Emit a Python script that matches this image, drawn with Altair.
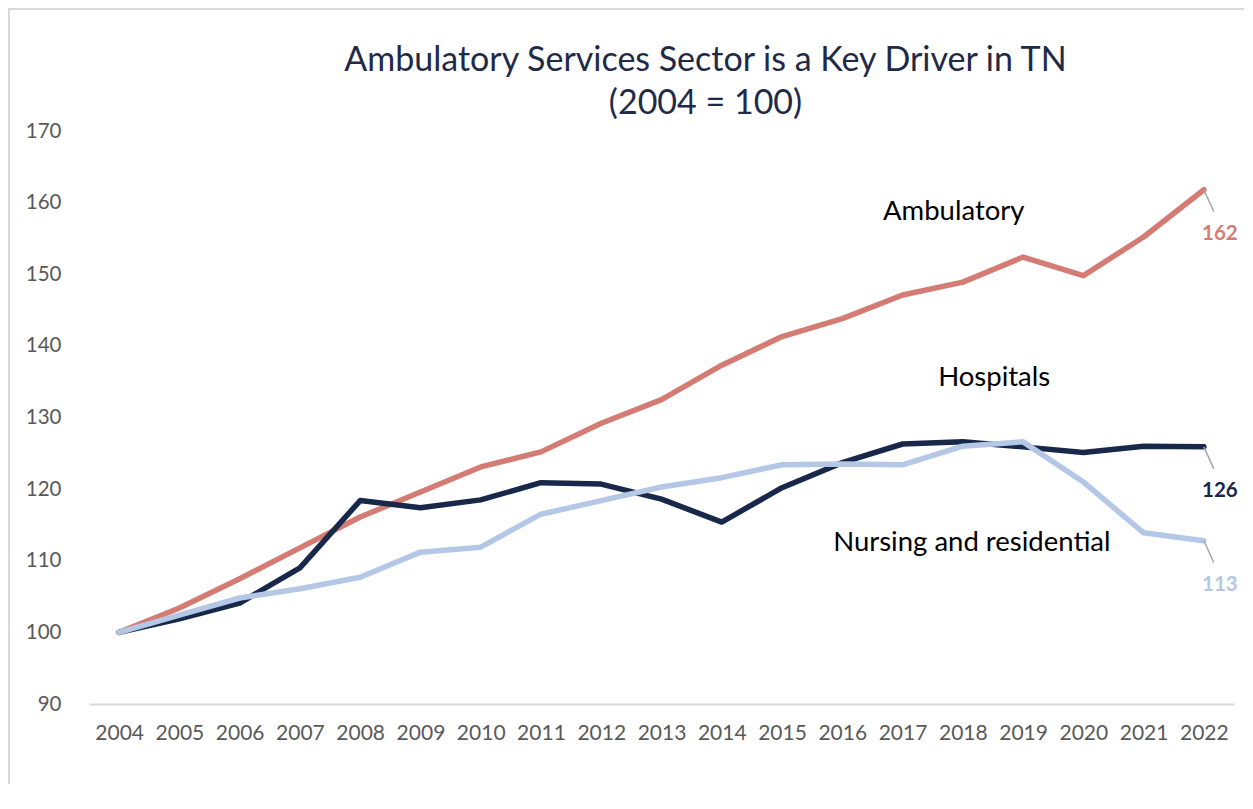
import altair as alt
import pandas as pd

years = list(range(2004, 2023))
ambulatory = [100, 103.4, 107.5, 111.8, 116.1, 119.6, 123.1, 125.2, 129.2, 132.5,
              137.3, 141.3, 143.8, 147.1, 148.9, 152.4, 149.8, 155.2, 161.8]
hospitals = [100, 101.9, 104.1, 109.0, 118.4, 117.4, 118.5, 120.9, 120.7, 118.6,
             115.4, 120.2, 123.7, 126.3, 126.6, 125.9, 125.1, 126.0, 125.9]
nursing = [100, 102.4, 104.8, 106.1, 107.7, 111.2, 111.9, 116.5, 118.4, 120.3,
           121.6, 123.4, 123.5, 123.4, 126.0, 126.6, 121.0, 113.9, 112.8]

series_names = ["Ambulatory", "Hospitals", "Nursing and residential"]
series_colors = ["#d47b74", "#17284a", "#b4c7e7"]
end_labels = ["162", "126", "113"]
name_label_year = [2017.85, 2018.52, 2018.15]
name_label_value = [158.7, 135.5, 112.5]
y_ticks = [90, 100, 110, 120, 130, 140, 150, 160, 170]

rows = []
for name, vals in zip(series_names, [ambulatory, hospitals, nursing]):
    for yr, v in zip(years, vals):
        rows.append({"year": yr, "value": v, "series": name})
df = pd.DataFrame(rows)

end_df = pd.DataFrame({
    "year": [years[-1]] * 3,
    "value": [ambulatory[-1], hospitals[-1], nursing[-1]],
    "series": series_names,
    "label": end_labels,
})
name_df = pd.DataFrame({
    "year": name_label_year,
    "value": name_label_value,
    "series": series_names,
})

FONT = "Lato"
xscale = alt.Scale(domain=[2003.5, 2022.5], nice=False, zero=False)
yscale = alt.Scale(domain=[90, 170], nice=False, zero=False)
color = alt.Color("series:N", scale=alt.Scale(domain=series_names, range=series_colors), legend=None)

x_enc = alt.X("year:Q", scale=xscale, title=None,
              axis=alt.Axis(values=years, format="d", grid=False, ticks=False, tickSize=0,
                            domainColor="#d9d9d9", domainWidth=2, labelPadding=18,
                            labelFont=FONT, labelFontSize=21, labelColor="#595959",
                            labelFlush=False, labelOverlap=False))
y_enc = alt.Y("value:Q", scale=yscale, title=None,
              axis=alt.Axis(values=y_ticks, grid=False, ticks=False, tickSize=0, domain=False,
                            labelPadding=28, labelFont=FONT, labelFontSize=20.5,
                            labelColor="#595959"))

lines = alt.Chart(df).mark_line(strokeWidth=5.5, strokeJoin="round", strokeCap="round").encode(
    x=x_enc, y=y_enc, color=color
)

leaders = alt.Chart(end_df).mark_rule(color="#a6a6a6", strokeWidth=1.5, x2Offset=10, y2Offset=22).encode(
    x=alt.X("year:Q", scale=xscale), x2="year", y=alt.Y("value:Q", scale=yscale), y2="value"
)

end_text = alt.Chart(end_df).mark_text(font=FONT, fontSize=20.5, fontWeight="bold", dx=16, dy=44).encode(
    x=alt.X("year:Q", scale=xscale), y=alt.Y("value:Q", scale=yscale), text="label:N", color=color
)

name_text = alt.Chart(name_df).mark_text(font=FONT, fontSize=27.5, color="#000000").encode(
    x=alt.X("year:Q", scale=xscale), y=alt.Y("value:Q", scale=yscale), text="series:N"
)

frame_left = alt.Chart(name_df).mark_rule(color="#d9d9d9", strokeWidth=2).encode(
    x=alt.value(-80), y=alt.value(-122), y2=alt.value(700)
)
frame_top = alt.Chart(name_df).mark_rule(color="#d9d9d9", strokeWidth=2).encode(
    y=alt.value(-122), x=alt.value(-81), x2=alt.value(1160)
)

chart = alt.layer(frame_left, frame_top, lines, leaders, end_text, name_text).properties(
    width=1145, height=573,
    autosize=alt.AutoSizeParams(type="none"),
    padding={"left": 81, "top": 123, "right": 10, "bottom": 80},
    title=alt.TitleParams(
        text=["Ambulatory Services Sector is a Key Driver in TN", "(2004 = 100)"],
        font=FONT, fontSize=34, fontWeight="normal", color="#1f2a48",
        anchor="middle", dx=44, lineHeight=43, offset=-113,
    ),
).configure_view(stroke=None)

chart.save("out.html", embed_options={"renderer": "svg", "actions": False})
